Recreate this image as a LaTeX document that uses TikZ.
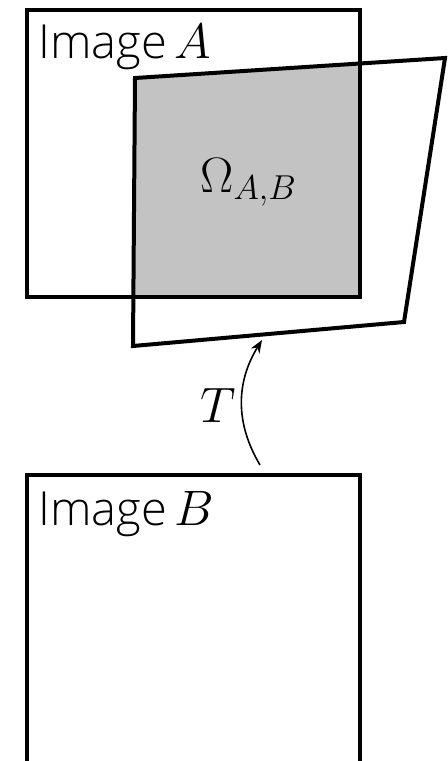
\documentclass[tikz,border=0pt]{standalone}
\usepackage{fontspec}
\setmainfont{Open Sans Light}
\usetikzlibrary{arrows.meta}
\definecolor{overlapgray}{RGB}{195,195,195}

\begin{document}
\begin{tikzpicture}[x=0.5pt, y=-0.5pt]
	\tikzset{
		frame/.style={line width=2pt, line join=miter},
		image label/.style={anchor=base west, inner sep=0pt, font=\fontsize{23.5}{28}\selectfont},
		math label/.style={anchor=base west, inner sep=0pt, font=\fontsize{25}{30}\selectfont},
		warp arrow/.style={line width=0.8pt, -{Stealth[length=6.5pt, width=5pt]}}
	}
	\useasboundingbox (0,0) rectangle (448,761);
	% corners of image B after the warp T
	\coordinate (wTL) at (135,78);
	\coordinate (wTR) at (445,58);
	\coordinate (wBR) at (404,322);
	\coordinate (wBL) at (133,346);
	% overlap region
	\begin{scope}
		\clip (27,10) rectangle (360,297);
		\fill[overlapgray] (wTL) -- (wTR) -- (wBR) -- (wBL) -- cycle;
	\end{scope}
	\draw[frame] (27,10) rectangle (360,297);
	\draw[frame] (wTL) -- (wTR) -- (wBR) -- (wBL) -- cycle;
	\draw[frame] (27,475) rectangle (360,790);
	\node[image label] (labA) at (38,58) {Image\,$A$};
	\node[image label] (labB) at (38,525) {Image\,$B$};
	\node[math label] (omega) at (200,192) {$\Omega_{A,B}$};
	\node[math label] (labT) at (200,422) {$T$};
	% the warp arrow
	\coordinate (arrS) at (260,465);
	\coordinate (arrE) at (262,340);
	\draw[warp arrow] (arrS) .. controls (235,423) and (236,382) .. (arrE);
\end{tikzpicture}
\end{document}
